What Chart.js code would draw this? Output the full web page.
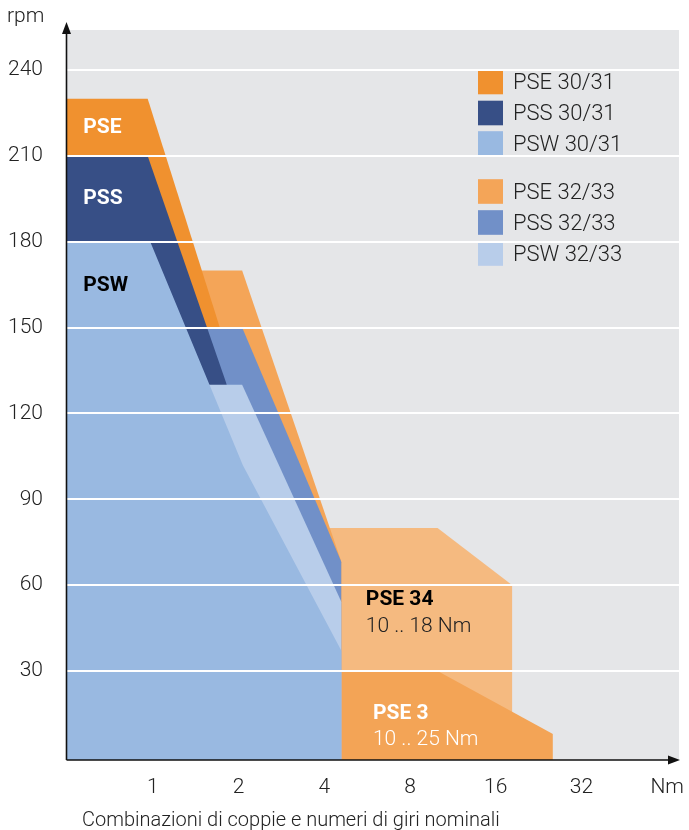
<!DOCTYPE html>
<html>
<head>
<meta charset="utf-8">
<title>Combinazioni di coppie e numeri di giri nominali</title>
<script src="https://cdn.jsdelivr.net/npm/chart.js"></script>
<style>
  html, body { margin: 0; padding: 0; background: #fff; }
  #wrap { width: 689px; height: 830px; }
</style>
</head>
<body>
<div id="wrap"><canvas id="rpmChart" width="689" height="830"></canvas></div>

<script>
  // axis ticks
  const torqueTicks = [1, 2, 4, 8, 16, 32];
  const rpmTicks = [30, 60, 90, 120, 150, 180, 210, 240];

  // outline of each range as [Nm, rpm], filled down to the x axis
  const pse3031 = [[0.5, 230], [0.96, 230], [1.72, 150]];
  const pss3031 = [[0.5, 210], [0.96, 210], [1.82, 130]];
  const psw3031 = [[0.5, 180], [0.98, 180], [2.07, 102], [4.6, 37]];
  const pse3233 = [[0.5, 170], [2.06, 170], [4.6, 68]];
  const pss3233 = [[0.5, 150], [2.06, 150], [4.6, 68]];
  const psw3233 = [[0.5, 130], [2.06, 130], [4.6, 54]];
  const pse34 = [[0.5, 80], [10, 80], [18.3, 60]];
  const pse3 = [[4.6, 30], [10, 30], [25.4, 8]];

  const legendNames = ['PSE 30/31', 'PSS 30/31', 'PSW 30/31', 'PSE 32/33', 'PSS 32/33', 'PSW 32/33'];

  const colors = {
    pse3031: '#f0912f', pss3031: '#374f86', psw3031: '#99b9e1',
    pse3233: '#f4a558', pss3233: '#7190c8', psw3233: '#b8cdea',
    pse34: '#f5ba80', pse3: '#f3a456'
  };
  const FONT = 'Roboto, "Liberation Sans", sans-serif';
  const INK = '#222';

  // first dataset ends up on top
  const ranges = [
    ['PSW 30/31', psw3031, colors.psw3031],
    ['PSW 32/33', psw3233, colors.psw3233],
    ['PSS 30/31', pss3031, colors.pss3031],
    ['PSS 32/33', pss3233, colors.pss3233],
    ['PSE 30/31', pse3031, colors.pse3031],
    ['PSE 32/33', pse3233, colors.pse3233],
    ['PSE 3', pse3, colors.pse3],
    ['PSE 34', pse34, colors.pse34]
  ];

  // text inside the plot, anchored on the scales
  const notes = [
    { text: 'PSE', nm: 0.57, rpm: 220, bold: true, color: '#fff' },
    { text: 'PSS', nm: 0.57, rpm: 195, bold: true, color: '#fff' },
    { text: 'PSW', nm: 0.57, rpm: 164.5, bold: true, color: '#000' },
    { text: 'PSE 34', nm: 5.6, rpm: 55, bold: true, color: '#000' },
    { text: '10 .. 18 Nm', nm: 5.6, rpm: 45.5, bold: false, color: INK },
    { text: 'PSE 3', nm: 5.93, rpm: 15, bold: true, color: '#fff' },
    { text: '10 .. 25 Nm', nm: 5.93, rpm: 6, bold: false, color: '#fff' }
  ];

  const decor = {
    id: 'decor',
    beforeDatasetsDraw(chart) {
      const { ctx, chartArea: a } = chart;
      ctx.save();
      ctx.fillStyle = '#e5e6e8';
      ctx.fillRect(a.left, a.top, a.right - a.left, a.bottom - a.top);
      ctx.restore();
    },
    afterDatasetsDraw(chart) {
      const { ctx, scales } = chart;
      ctx.save();
      ctx.textBaseline = 'middle';
      ctx.textAlign = 'left';
      notes.forEach(n => {
        ctx.font = (n.bold ? '700 21px ' : '300 21px ') + FONT;
        ctx.fillStyle = n.color;
        ctx.fillText(n.text, scales.x.getPixelForValue(n.nm), scales.y.getPixelForValue(n.rpm));
      });

      // legend, two groups of three
      const legendColors = [colors.pse3031, colors.pss3031, colors.psw3031,
                            colors.pse3233, colors.pss3233, colors.psw3233];
      const rows = [82, 113, 143.5, 191.5, 222.5, 253.5];
      ctx.font = '300 22px ' + FONT;
      legendNames.forEach((name, i) => {
        ctx.fillStyle = legendColors[i];
        ctx.fillRect(478, rows[i] - 12.3, 25, 24.6);
        ctx.fillStyle = INK;
        ctx.fillText(name, 513, rows[i] + 1.5);
      });
      ctx.restore();
    },
    afterDraw(chart) {
      const { ctx, chartArea: a } = chart;
      const x0 = a.left - 0.5, y0 = a.bottom;
      ctx.save();
      ctx.strokeStyle = '#111';
      ctx.fillStyle = '#111';
      ctx.lineWidth = 1.6;
      ctx.beginPath();
      ctx.moveTo(x0, y0);
      ctx.lineTo(x0, 30);
      ctx.moveTo(x0, y0);
      ctx.lineTo(a.right - 8, y0);
      ctx.stroke();
      // arrow heads
      ctx.beginPath();
      ctx.moveTo(x0, 22);
      ctx.lineTo(x0 - 4.5, 34);
      ctx.lineTo(x0 + 4.5, 34);
      ctx.closePath();
      ctx.fill();
      ctx.beginPath();
      ctx.moveTo(a.right + 1, y0);
      ctx.lineTo(a.right - 11, y0 - 4.5);
      ctx.lineTo(a.right - 11, y0 + 4.5);
      ctx.closePath();
      ctx.fill();

      ctx.fillStyle = INK;
      ctx.textAlign = 'left';
      ctx.textBaseline = 'alphabetic';
      ctx.font = '300 21px ' + FONT;
      ctx.fillText('rpm', 7, 22);
      ctx.font = '300 20px ' + FONT;
      ctx.fillText('Combinazioni di coppie e numeri di giri nominali', 82, 826);
      ctx.restore();
    }
  };

  const ctx = document.getElementById('rpmChart').getContext('2d');
  new Chart(ctx, {
    type: 'line',
    data: {
      datasets: ranges.map(([label, pts, color]) => ({
        label: label,
        data: pts.map(p => ({ x: p[0], y: p[1] })),
        backgroundColor: color,
        borderColor: color,
        borderWidth: 0,
        pointRadius: 0,
        tension: 0,
        fill: 'start'
      }))
    },
    options: {
      responsive: false,
      animation: false,
      layout: { padding: { top: 30, right: 10, bottom: 0, left: 0 } },
      plugins: { legend: { display: false }, tooltip: { enabled: false } },
      scales: {
        x: {
          type: 'logarithmic',
          min: 0.5,
          max: 70.4,
          grid: { display: false, drawTicks: false },
          border: { display: false },
          afterBuildTicks: s => { s.ticks = torqueTicks.concat([64]).map(v => ({ value: v })); },
          afterFit: s => { s.height = 70; s.paddingLeft = 0; s.paddingRight = 0; },
          ticks: {
            autoSkip: false, maxRotation: 0, minRotation: 0, padding: 15,
            color: INK, font: { family: FONT, size: 21, weight: '300' },
            callback: v => (v === 64 ? 'Nm' : String(v))
          }
        },
        y: {
          min: -1.1,
          max: 254,
          grid: { color: '#ffffff', lineWidth: 2, drawTicks: false, z: 1 },
          border: { display: false },
          afterBuildTicks: s => { s.ticks = rpmTicks.map(v => ({ value: v })); },
          afterFit: s => { s.width = 67; s.paddingTop = 0; s.paddingBottom = 0; },
          ticks: {
            padding: 24,
            color: INK, font: { family: FONT, size: 21, weight: '300' }
          }
        }
      }
    },
    plugins: [decor]
  });
</script>
</body>
</html>
